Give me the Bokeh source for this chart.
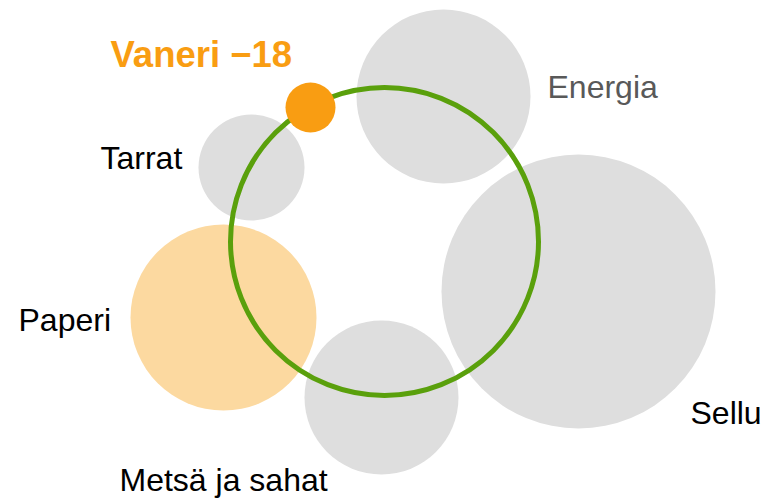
from bokeh.plotting import figure
from bokeh.models import Range1d, ColumnDataSource
from bokeh.core.properties import value
from bokeh.embed import file_html
from bokeh.resources import INLINE

# Bubble data (positions in the chart's own coordinate space)
names = ["Energia", "Tarrat", "Paperi", "Metsä ja sahat", "Sellu"]
bx = [443, 251, 223, 381, 578]
by = [96, 167, 317, 397, 291]
br = [87, 53, 93, 77, 137]
bcolors = ["#DEDEDE", "#DEDEDE", "#FCD9A0", "#DEDEDE", "#DEDEDE"]

# Label data
label_text = ["Energia", "Tarrat", "Paperi", "Metsä ja sahat", "Sellu"]
label_x = [547, 100, 18, 119, 690]
label_y = [86, 157, 319, 479, 412]
label_colors = ["#595959", "#000000", "#000000", "#000000", "#000000"]

# Ring and highlighted item
ring_x = [384]
ring_y = [241]
ring_r = [154]
hi_name = ["Vaneri \u221218"]
hi_x = [310]
hi_y = [107]
hi_r = [25]
hi_label_x = [110]
hi_label_y = [54]

p = figure(width=776, height=498, output_backend="svg", toolbar_location=None,
           x_range=Range1d(0, 776), y_range=Range1d(498, 0),
           min_border=0, outline_line_color=None)
p.axis.visible = False
p.grid.visible = False
p.background_fill_color = "white"
p.border_fill_color = "white"

src = ColumnDataSource(dict(x=bx, y=by, r=br, c=bcolors, name=names))
p.circle(x="x", y="y", radius="r", fill_color="c", line_color=None, source=src)

p.circle(x=ring_x, y=ring_y, radius=ring_r, fill_color=None,
         line_color="#5AA00C", line_width=5)

p.circle(x=hi_x, y=hi_y, radius=hi_r, fill_color="#F99D12", line_color=None)

lsrc = ColumnDataSource(dict(x=label_x, y=label_y, t=label_text, c=label_colors))
p.text(x="x", y="y", text="t", text_color="c", source=lsrc,
       text_font=value("Liberation Sans"), text_font_size="32px",
       text_baseline="middle", text_align="left")

p.text(x=hi_label_x, y=hi_label_y, text=hi_name, text_color="#F99D12",
       text_font=value("Liberation Sans"), text_font_size="36.5px",
       text_font_style="bold", text_baseline="middle", text_align="left")

open("out.html", "w").write(file_html(p, INLINE))
